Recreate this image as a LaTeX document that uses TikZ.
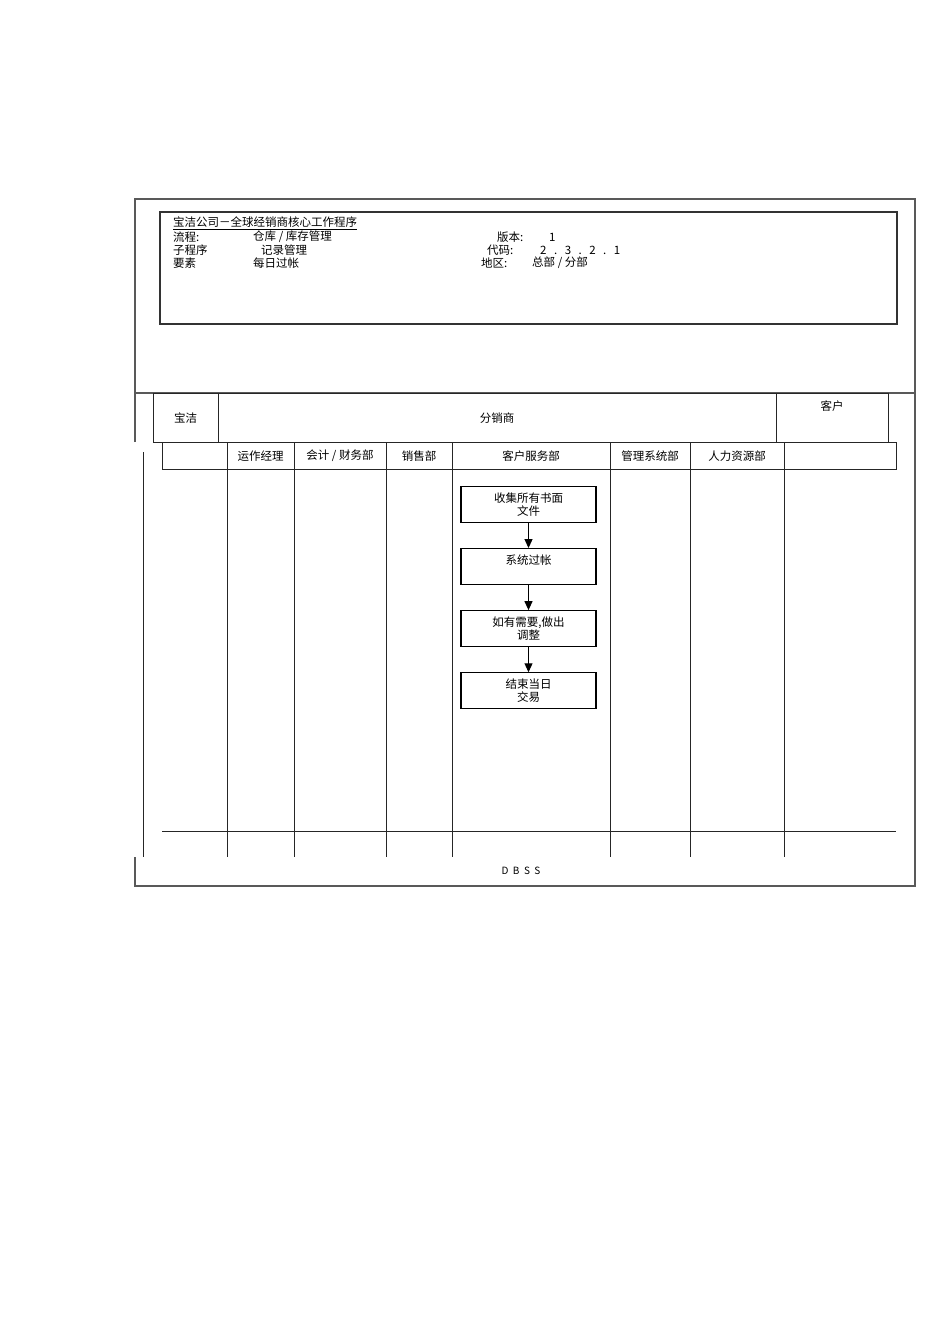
\documentclass[tikz,border=0pt]{standalone}
\usepackage{fontspec}
\setmainfont{Noto Sans CJK SC}
\usetikzlibrary{positioning,arrows.meta}

\tikzset{
	frame/.style={draw=black!65, line width=1.2pt},
	lane/.style={draw=black!85, line width=0.8pt},
	txt/.style={font=\fontsize{11.5}{13}\selectfont, inner sep=0pt},
	stepbox/.style={draw, line width=1.1pt, minimum width=135pt, minimum height=36pt,
		align=center, inner sep=0pt, font=\fontsize{11.5}{13}\selectfont},
	flow/.style={-{Triangle[length=9pt,width=8pt]}, line width=1.1pt}
}

\begin{document}
\begin{tikzpicture}[x=1pt,y=-1pt]
			\useasboundingbox (0,0) rectangle (950,1344);
			% marco exterior
			\draw[frame] (135,442) -- (135,199) -- (915,199) -- (915,886) -- (135,886) -- (135,857);
			\draw[frame] (135,393) -- (915,393);
			\draw[draw=black!80, line width=1.6pt] (160,212) rectangle (897,324);
			
			\node[txt, anchor=west] (titulo) at (173,223.5) {\underline{宝洁公司－全球经销商核心工作程序}};
			\node[txt, anchor=west] (flujo) at (173,237) {流程:};
			\node[txt, anchor=west] (flujoval) at (253,237) {仓库 / 库存管理};
			\node[txt, anchor=west] (subprog) at (173,250) {子程序};
			\node[txt, anchor=west] (subprogval) at (261,250) {记录管理};
			\node[txt, anchor=west] (elem) at (173,263) {要素};
			\node[txt, anchor=west] (elemval) at (253,263) {每日过帐};
			\node[txt, anchor=west] (version) at (497,237) {版本:};
			\node[txt, anchor=west] (versionval) at (549,237) {1};
			\node[txt, anchor=west] (codigo) at (487,250) {代码:};
			\node[txt, anchor=west] (codigoval) at (540,250) {2\hspace{7.5pt}.\hspace{7.5pt}3\hspace{7.5pt}.\hspace{7.5pt}2\hspace{7.5pt}.\hspace{7.5pt}1};
			\node[txt, anchor=west] (region) at (481,263) {地区:};
			\node[txt, anchor=west] (regionval) at (532,263) {总部 / 分部};
			
			% cabecera de carriles
			\draw[lane] (153,393) rectangle (218,442);
			\draw[lane] (218,393) rectangle (776,442);
			\draw[lane] (776,393) rectangle (888,442);
			\node[txt] (pg) at (185.5,418) {宝洁};
			\node[txt] (distribuidor) at (497,418) {分销商};
			\node[txt] (cliente) at (832,406) {客户};
			
			\draw[lane] (162,442) rectangle (896,469);
			\foreach \x in {227,294,386,452,610,690,784}
				\draw[lane] (\x,442) -- (\x,857);
			\draw[lane] (143,452) -- (143,857);
			\draw[lane] (162,831) -- (896,831);
			
			\node[txt] (operaciones) at (260.5,456) {运作经理};
			\node[txt] (finanzas) at (340,456) {会计 / 财务部};
			\node[txt] (ventas) at (419,456) {销售部};
			\node[txt] (servicio) at (531,456) {客户服务部};
			\node[txt] (sistemas) at (650,456) {管理系统部};
			\node[txt] (rrhh) at (737,456) {人力资源部};
			
			% pasos
			\node[stepbox] (recoger) at (528.5,504.5) {收集所有书面\\文件};
			\node[stepbox, below=25pt of recoger] (registrar) {系统过帐\\\mbox{}};
			\node[stepbox, below=25pt of registrar] (ajustar) {如有需要,做出\\调整};
			\node[stepbox, below=25pt of ajustar] (cerrar) {结束当日\\交易};
			
			\draw[flow] (recoger) -- (registrar);
			\draw[flow] (registrar) -- (ajustar);
			\draw[flow] (ajustar) -- (cerrar);
			
			\node[txt, font=\fontsize{10}{11}\selectfont] (pie) at (521,871) {D\ \ B\ \ S\ \ S};
\end{tikzpicture}
\end{document}
